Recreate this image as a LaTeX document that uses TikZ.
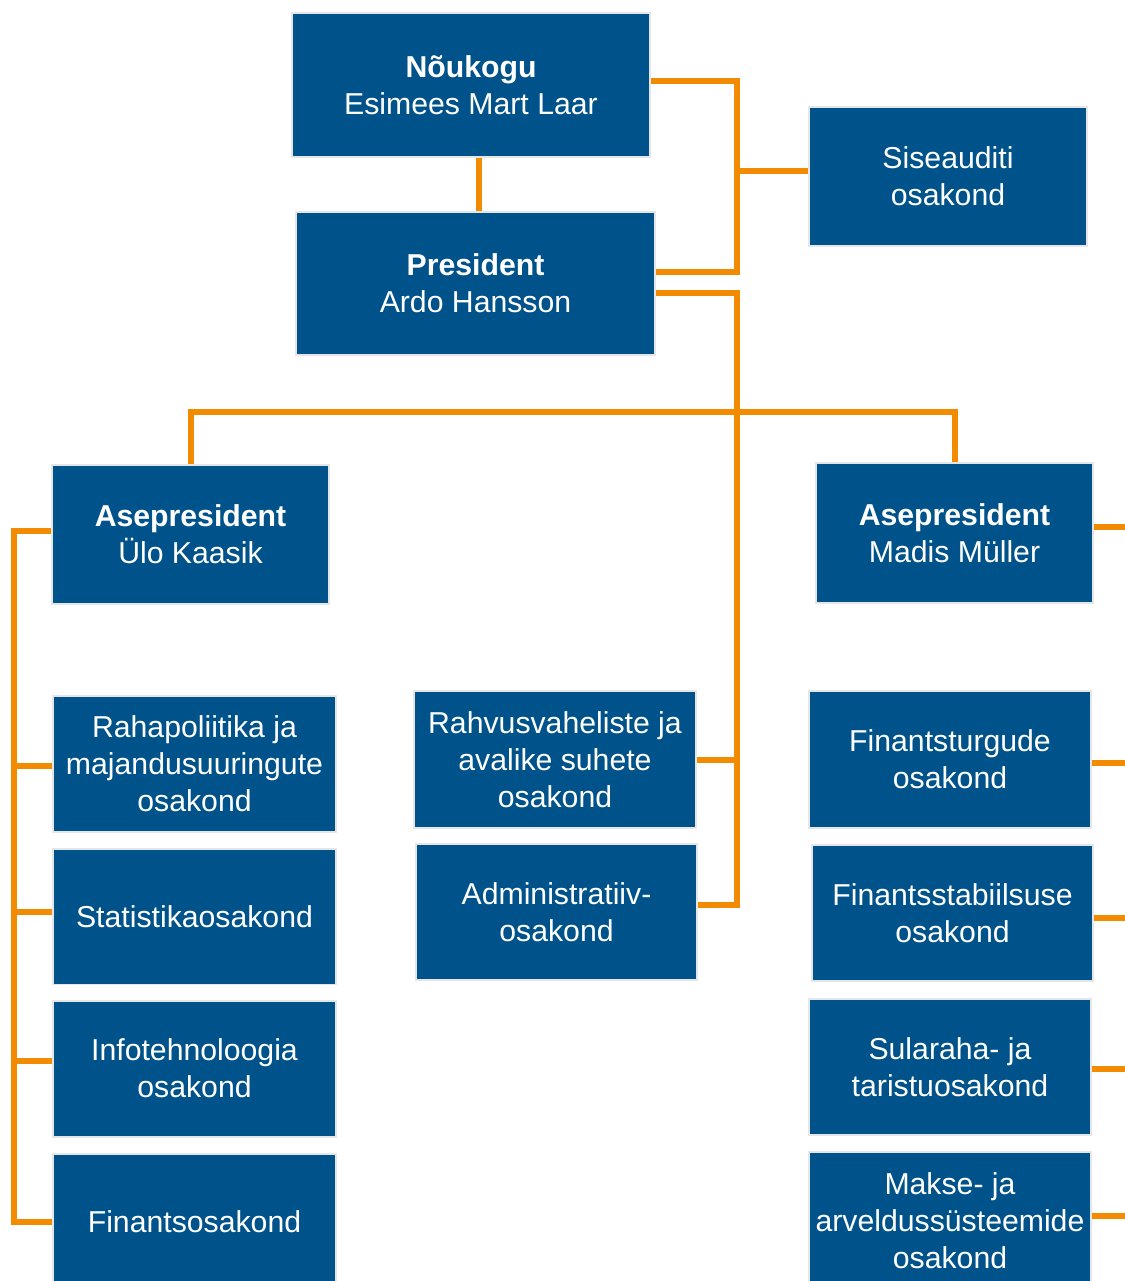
\documentclass[tikz,border=0pt]{standalone}
\usepackage{fontspec}
\setmainfont{Liberation Sans}
\usetikzlibrary{positioning}

\definecolor{bankblue}{RGB}{0,83,138}
\definecolor{linkorange}{RGB}{242,139,0}
\definecolor{boxrim}{RGB}{228,230,232}

\tikzset{
	unit/.style={draw=boxrim, line width=0.04cm, fill=bankblue, text=white,
		align=center, inner sep=0pt, font=\fontsize{17.2}{21}\selectfont},
	link/.style={draw=linkorange, line width=0.12cm},
}

\begin{document}
\begin{tikzpicture}[x=0.02cm, y=-0.02cm]

		\useasboundingbox (0,0) rectangle (1125,1281);
		\clip (0,0) rectangle (1125,1281);

		% top of the chart
		\node[unit, minimum width=7.16cm, minimum height=2.88cm] (noukogu) at (471,85) {\textbf{Nõukogu}\\Esimees Mart Laar};
		\node[unit, minimum width=7.18cm, minimum height=2.86cm] (president) at (475.5,283.5) {\textbf{President}\\Ardo Hansson};
		\node[unit, minimum width=5.56cm, minimum height=2.78cm] (siseauditi) at (948,176.5) {Siseauditi\\osakond};

		% vice presidents
		\node[unit, minimum width=5.54cm, minimum height=2.78cm] (apleft) at (190.5,534.5) {\textbf{Asepresident}\\Ülo Kaasik};
		\node[unit, minimum width=5.54cm, minimum height=2.80cm] (apright) at (954.5,533) {\textbf{Asepresident}\\Madis Müller};

		% left column
		\node[unit, minimum width=5.66cm, minimum height=2.72cm] (rahapol) at (194.5,764) {Rahapoliitika ja\\majandusuuringute\\osakond};
		\node[unit, minimum width=5.66cm, minimum height=2.72cm] (statistika) at (194.5,916.5) {Statistikaosakond};
		\node[unit, minimum width=5.66cm, minimum height=2.72cm] (infotech) at (194.5,1068.5) {Infotehnoloogia\\osakond};
		\node[unit, minimum width=5.66cm, minimum height=2.72cm] (finants) at (194.5,1221.5) {Finantsosakond};

		% middle column
		\node[unit, minimum width=5.64cm, minimum height=2.74cm] (rahvus) at (555,759.5) {Rahvusvaheliste ja\\avalike suhete\\osakond};
		\node[unit, minimum width=5.62cm, minimum height=2.72cm] (admin) at (556.5,912) {Administratiiv-\\osakond};

		% right column
		\node[unit, minimum width=5.64cm, minimum height=2.74cm] (finturg) at (950,759.5) {Finantsturgude\\osakond};
		\node[unit, minimum width=5.62cm, minimum height=2.72cm] (finstab) at (952.5,913) {Finantsstabiilsuse\\osakond};
		\node[unit, minimum width=5.64cm, minimum height=2.72cm] (sularaha) at (950,1067) {Sularaha- ja\\taristuosakond};
		\node[unit, minimum width=5.64cm, minimum height=2.74cm] (makse) at (950,1220.5) {Makse- ja\\arveldussüsteemide\\osakond};

		\coordinate (bus) at (737,412);
		\coordinate (lbus) at (14,0);
		\coordinate (pres-a) at ([yshift=0.23cm]president.east);
		\coordinate (pres-b) at ([yshift=-0.19cm]president.east);
		\coordinate (admin-in) at ([yshift=0.14cm]admin.east);
		\coordinate (audit-in) at ([yshift=0.11cm]siseauditi.west);

		% connectors
		\draw[link] ([xshift=0.16cm]noukogu.south) -- ([xshift=0.16cm]noukogu.south |- president.north);
		\draw[link] ([yshift=0.08cm]noukogu.east) -| (bus |- pres-a) -- (pres-a);
		\draw[link] (bus |- audit-in) -- (audit-in);
		\draw[link] (pres-b) -| (bus |- admin-in) -- (admin-in);
		\draw[link] (rahvus.east) -- (bus |- rahvus.east);
		\draw[link] (apleft.north) |- (bus) -| (apright.north);

		\draw[link] ([yshift=0.07cm]apleft.west) -| (lbus |- finants) -- (finants.west);
		\draw[link] ([yshift=-0.04cm]lbus |- rahapol) -- ([yshift=-0.04cm]rahapol.west);
		\draw[link] ([yshift=0.1cm]lbus |- statistika) -- ([yshift=0.1cm]statistika.west);
		\draw[link] ([yshift=0.15cm]lbus |- infotech) -- ([yshift=0.15cm]infotech.west);

		\draw[link] ([yshift=0.12cm]apright.east) -- ++(1cm,0);
		\draw[link] ([yshift=-0.07cm]finturg.east) -- ++(1cm,0);
		\draw[link] ([yshift=-0.1cm]finstab.east) -- ++(1cm,0);
		\draw[link] ([yshift=-0.04cm]sularaha.east) -- ++(1cm,0);
		\draw[link] ([yshift=0.1cm]makse.east) -- ++(1cm,0);

\end{tikzpicture}
\end{document}
